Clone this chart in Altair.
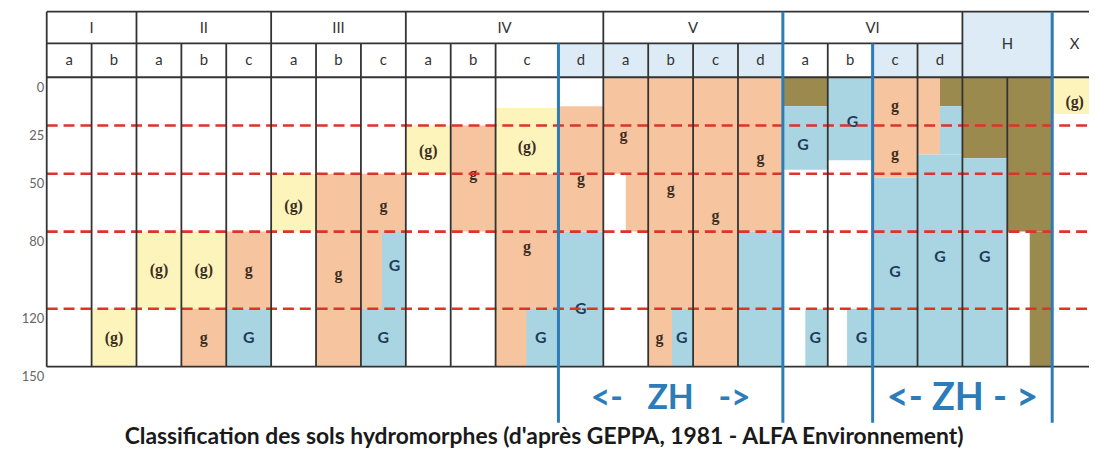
import altair as alt
import pandas as pd

# ---------------- data ----------------
col_names = ["Ia", "Ib", "IIa", "IIb", "IIc", "IIIa", "IIIb", "IIIc",
             "IVa", "IVb", "IVc", "IVd", "Va", "Vb", "Vc", "Vd",
             "VIa", "VIb", "VIc", "VId", "H1", "H2", "X"]
col_widths = [1, 1, 1, 1, 1, 1, 1, 1, 1, 1, 1.4, 1, 1, 1, 1, 1, 1, 1, 1, 1, 1, 1, 1]
sub_letters = ["a", "b", "a", "b", "c", "a", "b", "c", "a", "b", "c", "d",
               "a", "b", "c", "d", "a", "b", "c", "d", "", "", ""]
group_names = ["I", "II", "III", "IV", "V", "VI", "H", "X"]
group_sizes = [2, 3, 3, 4, 4, 4, 2, 1]
blue_sub_headers = ["IVd", "Va", "Vb", "Vc", "Vd", "VIc", "VId"]
depth_ticks = [0, 25, 50, 80, 120, 150]
limit_depths = [25, 50, 80, 120]

# horizons: column, top depth, bottom depth, type, start fraction, end fraction
horizons = [
    ("Ib", 120, 150, "(g)", 0, 1),
    ("IIa", 80, 120, "(g)", 0, 1),
    ("IIb", 80, 120, "(g)", 0, 1),
    ("IIb", 120, 150, "g", 0, 1),
    ("IIc", 80, 120, "g", 0, 1),
    ("IIc", 120, 150, "G", 0, 1),
    ("IIIa", 50, 80, "(g)", 0, 1),
    ("IIIb", 50, 150, "g", 0, 1),
    ("IIIc", 50, 150, "g", 0, 1),
    ("IIIc", 80, 120, "G", 0.47, 1),
    ("IIIc", 120, 150, "G", 0, 1),
    ("IVa", 25, 50, "(g)", 0, 1),
    ("IVb", 25, 80, "g", 0, 1),
    ("IVc", 16, 50, "(g)", 0, 1),
    ("IVc", 50, 150, "g", 0, 1),
    ("IVc", 120, 150, "G", 0.49, 1),
    ("IVd", 15, 80, "g", 0, 1),
    ("IVd", 80, 150, "G", 0, 1),
    ("Va", 0, 50, "g", 0, 1),
    ("Va", 50, 80, "g", 0.5, 1),
    ("Vb", 0, 150, "g", 0, 1),
    ("Vb", 120, 150, "G", 0.53, 1),
    ("Vc", 0, 150, "g", 0, 1),
    ("Vd", 0, 80, "g", 0, 1),
    ("Vd", 80, 150, "G", 0, 1),
    ("VIa", 0, 15, "H", 0, 1),
    ("VIa", 15, 48, "G", 0, 1),
    ("VIa", 120, 150, "G", 0.5, 1),
    ("VIb", 0, 43, "G", 0, 1),
    ("VIb", 120, 150, "G", 0.43, 1),
    ("VIc", 0, 52, "g", 0, 1),
    ("VIc", 52, 150, "G", 0, 1),
    ("VId", 0, 40, "g", 0, 0.5),
    ("VId", 0, 15, "H", 0.5, 1),
    ("VId", 15, 40, "G", 0.5, 1),
    ("VId", 40, 150, "G", 0, 1),
    ("H1", 0, 42, "H", 0, 1),
    ("H1", 42, 150, "G", 0, 1),
    ("H2", 0, 80, "H", 0, 1),
    ("H2", 80, 150, "H", 0.5, 1),
    ("X", 0, 19, "(g)", 0, 1),
]

# labels: column, depth, text, position fraction in column
labels = [
    ("Ib", 135, "(g)", 0.5),
    ("IIa", 100, "(g)", 0.5),
    ("IIb", 100, "(g)", 0.5),
    ("IIb", 135, "g", 0.5),
    ("IIc", 100, "g", 0.5),
    ("IIc", 135, "G", 0.5),
    ("IIIa", 67, "(g)", 0.5),
    ("IIIb", 102, "g", 0.5),
    ("IIIc", 67, "g", 0.5),
    ("IIIc", 98, "G", 0.75),
    ("IIIc", 135, "G", 0.5),
    ("IVa", 38, "(g)", 0.5),
    ("IVb", 50, "g", 0.5),
    ("IVc", 36, "(g)", 0.5),
    ("IVc", 88, "g", 0.5),
    ("IVc", 135, "G", 0.72),
    ("IVd", 53, "g", 0.5),
    ("IVd", 120, "G", 0.5),
    ("Va", 30, "g", 0.45),
    ("Vb", 58, "g", 0.5),
    ("Vb", 135, "g", 0.25),
    ("Vb", 135, "G", 0.75),
    ("Vc", 72, "g", 0.5),
    ("Vd", 42, "g", 0.5),
    ("VIa", 35, "G", 0.45),
    ("VIa", 135, "G", 0.72),
    ("VIb", 23, "G", 0.55),
    ("VIb", 135, "G", 0.75),
    ("VIc", 15, "g", 0.5),
    ("VIc", 40, "g", 0.5),
    ("VIc", 101, "G", 0.5),
    ("VId", 93, "G", 0.5),
    ("H1", 93, "G", 0.5),
    ("X", 13, "(g)", 0.5),
]

NB = "\u00a0"
zh_labels = [("<-" + NB * 3 + "ZH" + NB * 3 + "->", 11, 16, 34), ("<- ZH - >", 18, 22, 38)]
title_text = "Classification des sols hydromorphes (d'après GEPPA, 1981 - ALFA Environnement)"

# ---------------- derived tables ----------------
HEAD_TOP = -34
SUB_TOP = -17.5
ZH_BOTTOM = 179
ZH_DEPTH = 167
edges = [0.0]
for w in col_widths:
    edges.append(edges[-1] + w)
x0 = dict(zip(col_names, edges[:-1]))
cw = dict(zip(col_names, col_widths))
XMAX = edges[-2] + 0.82
XEND = edges[-1]

group_starts = [0]
for s in group_sizes:
    group_starts.append(group_starts[-1] + s)

hz = pd.DataFrame([
    {"x": x0[c] + f0 * cw[c], "x2": x0[c] + f1 * cw[c], "y": t, "y2": b, "kind": k}
    for c, t, b, k, f0, f1 in horizons
])

lab = pd.DataFrame([
    {"x": x0[c] + f * cw[c], "y": d, "text": t, "ink": "G" if "G" in t else "g"}
    for c, d, t, f in labels
])

head_fill = pd.DataFrame(
    [{"x": x0[c], "x2": x0[c] + cw[c], "y": SUB_TOP, "y2": 0} for c in blue_sub_headers]
    + [{"x": edges[group_starts[6]], "x2": edges[group_starts[7]], "y": HEAD_TOP, "y2": 0}]
)

group_lab = pd.DataFrame([
    {"x": (edges[group_starts[i]] + edges[group_starts[i + 1]]) / 2,
     "y": (HEAD_TOP + SUB_TOP) / 2 if g not in ("H", "X") else HEAD_TOP / 2,
     "text": g}
    for i, g in enumerate(group_names)
])
group_lab.loc[group_lab.text == "X", "x"] = edges[group_starts[7]] + 0.5

sub_lab = pd.DataFrame([
    {"x": x0[c] + cw[c] / 2, "y": SUB_TOP / 2, "text": s}
    for c, s in zip(col_names, sub_letters) if s
])

vrows = []
for i, e in enumerate(edges):
    if i in group_starts:
        top = HEAD_TOP
    elif i == group_starts[6] + 1:
        top = 0
    else:
        top = SUB_TOP
    vrows.append({"x": e, "y": top, "y2": 150})
vlines = pd.DataFrame(vrows)

hlines = pd.DataFrame([
    {"x": 0, "x2": XEND, "y": HEAD_TOP},
    {"x": 0, "x2": edges[group_starts[6]], "y": SUB_TOP},
    {"x": 0, "x2": XEND, "y": 0},
    {"x": 0, "x2": XEND, "y": 150},
])

red = pd.DataFrame([{"x": 0, "x2": XEND, "y": d} for d in limit_depths])

blue_idx = [11, 16, 18, 22]
blines = pd.DataFrame([
    {"x": edges[i], "y": HEAD_TOP if i in group_starts else SUB_TOP, "y2": ZH_BOTTOM}
    for i in blue_idx
])

zh = pd.DataFrame([
    {"x": (edges[a] + edges[b]) / 2, "y": ZH_DEPTH, "text": t, "size": s}
    for t, a, b, s in zh_labels
])

# ---------------- encodings ----------------
XS = alt.Scale(domain=[0, XMAX], nice=False, zero=False)
YS = alt.Scale(domain=[HEAD_TOP, 180], reverse=True, nice=False, zero=False)
YAX = alt.Axis(values=depth_ticks, domain=False, ticks=False, grid=False, title=None,
               labelFont="Lato", labelFontSize=13, labelColor="#666666",
               labelPadding=3, labelOffset=10, labelFlush=False)


def X(f="x"):
    return alt.X(f"{f}:Q", scale=XS, axis=None)


def Y(f="y"):
    return alt.Y(f"{f}:Q", scale=YS, axis=YAX)


hdr = alt.Chart(head_fill).mark_rect(color="#dcebf5").encode(
    x=X(), x2="x2:Q", y=Y(), y2="y2:Q")

fills = alt.Chart(hz).mark_rect().encode(
    x=X(), x2="x2:Q", y=Y(), y2="y2:Q",
    color=alt.Color("kind:N", legend=None,
                    scale=alt.Scale(domain=["(g)", "g", "G", "H"],
                                    range=["#fcf4bb", "#f6c49f", "#a9d5e3", "#9a8a4e"])))

txt_g = alt.Chart(lab[lab.ink == "g"]).mark_text(
    font="Liberation Serif", fontWeight="bold", fontSize=16, color="#3d2e1f").encode(
    x=X(), y=Y(), text="text:N")

txt_G = alt.Chart(lab[lab.ink == "G"]).mark_text(
    font="Lato", fontWeight="bold", fontSize=16, color="#1d3c5a").encode(
    x=X(), y=Y(), text="text:N")

vl = alt.Chart(vlines).mark_rule(color="#333333", strokeWidth=1.8).encode(
    x=X(), y=Y(), y2="y2:Q")

hl = alt.Chart(hlines).mark_rule(color="#333333", strokeWidth=1.8).encode(
    x=X(), x2="x2:Q", y=Y())

rl = alt.Chart(red).mark_rule(color="#dd3328", strokeWidth=2.6, strokeDash=[11, 6]).encode(
    x=X(), x2="x2:Q", y=Y())

bl = alt.Chart(blines).mark_rule(color="#2c7cba", strokeWidth=3).encode(
    x=X(), y=Y(), y2="y2:Q")

glab = alt.Chart(group_lab).mark_text(font="Lato", fontSize=15, color="#333333").encode(
    x=X(), y=Y(), text="text:N")

slab = alt.Chart(sub_lab).mark_text(font="Lato", fontSize=15, color="#333333").encode(
    x=X(), y=Y(), text="text:N")

zht = alt.Chart(zh).mark_text(font="Lato", fontWeight="bold", color="#2c7cba").encode(
    x=X(), y=Y(), text="text:N",
    size=alt.Size("size:Q", scale=None, legend=None))

chart = alt.layer(hdr, fills, txt_g, txt_G, rl, vl, hl, bl, glab, slab, zht).properties(
    width=1050, height=416,
    padding={"left": 39, "top": 2, "right": 0, "bottom": 30},
    autosize=alt.AutoSizeParams(type="none"),
    title=alt.TitleParams(title_text, orient="bottom", anchor="middle", offset=2,
                          baseline="top", dx=-24, font="Lato", fontSize=23,
                          fontWeight="bold", color="#1a1a1a"),
).configure_view(stroke=None)

chart.save("out.html", embed_options={"renderer": "svg", "actions": False})
